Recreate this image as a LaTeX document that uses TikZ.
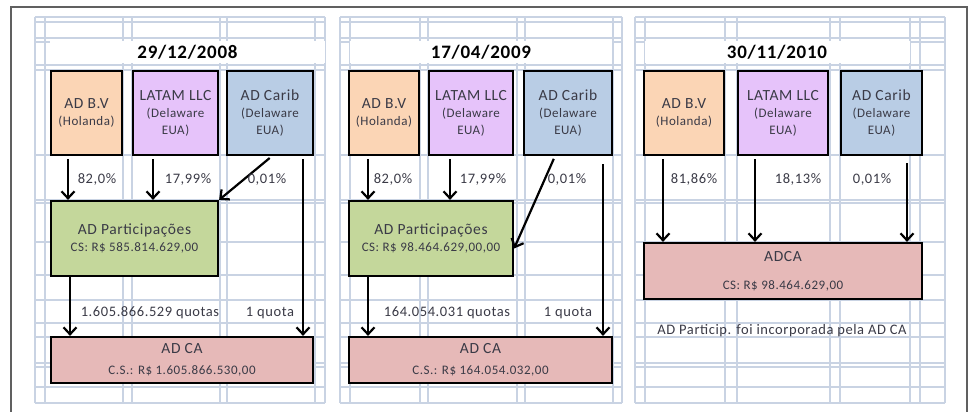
\documentclass[tikz,border=0pt]{standalone}
\usepackage{fontspec}
\setmainfont{Carlito}[LetterSpace=4]
\usetikzlibrary{arrows.meta}
\definecolor{gridblue}{HTML}{C9D3E3}
\definecolor{framegrey}{HTML}{606060}
\definecolor{bvorange}{HTML}{FBD5B5}
\definecolor{latampurple}{HTML}{E6C3FA}
\definecolor{caribblue}{HTML}{B9CDE5}
\definecolor{partgreen}{HTML}{C4D79B}
\definecolor{adcapink}{HTML}{E6B9B8}
\definecolor{txtgrey}{HTML}{3A3A46}
\tikzset{
    entbox/.style={draw=black, line width=2.2pt, align=center, text=txtgrey,
        inner sep=0pt, font=\fontsize{13}{17}\selectfont},
    own/.style={-{Straight Barb[length=7pt,width=13pt,line width=2.2pt]},
        line width=2.2pt, shorten <=3pt},
    pct/.style={text=txtgrey, font=\fontsize{14.5}{17}\selectfont},
    datecell/.style={fill=white, text=black, font=\bfseries\fontsize{19}{22}\selectfont,
        minimum height=22pt, inner sep=0pt},
    gridline/.style={gridblue, line width=1.6pt}
}
\newcommand{\entname}[1]{{\fontsize{15.5}{18}\selectfont #1}}
\newcommand{\entity}[7] {
	\node[entbox, fill=#6, minimum width=#4pt, minimum height=#5pt] (#1) at (#2,#3) {#7};
}

\begin{document}
\begin{tikzpicture}[x=1pt,y=-1pt]
		\useasboundingbox (0,0) rectangle (977,412);

		% sheet grid
		\foreach \x in {35,45,123,132,220,227,315,325}
			\draw[gridline] (\x,17) -- (\x,403);
		\foreach \x in {340,350,420,428,517,525,613,622}
			\draw[gridline] (\x,17) -- (\x,403);
		\foreach \x in {635,645,725,737,830,840,910,920,945}
			\draw[gridline] (\x,17) -- (\x,403);
		\foreach \y in {17,22,38,42,65,70,155,200,203,242,275,300,323,337,363,367,387,403} {
			\draw[gridline] (35,\y) -- (325,\y);
			\draw[gridline] (340,\y) -- (622,\y);
			\draw[gridline] (635,\y) -- (945,\y);
		}
		\draw[framegrey, line width=1.2pt] (11,412) -- (11,7) -- (967,7) -- (967,412);

		% 29/12/2008
		\node[datecell, minimum width=275pt] (d1) at (187.5,52) {29/12/2008};
		\entity{bv1}{86.5}{113}{71}{84}{bvorange}{\entname{AD B.V}\\(Holanda)}
		\entity{la1}{175.5}{113}{85}{84}{latampurple}{\entname{LATAM LLC}\\(Delaware\\EUA)}
		\entity{ca1}{270}{113}{86}{84}{caribblue}{\entname{AD Carib}\\(Delaware\\EUA)}
		\entity{part1}{134.5}{238.5}{167}{75}{partgreen}{\entname{AD Participações}\\CS: R\$ 585.814.629,00}
		\entity{adca1}{182}{360}{262}{46}{adcapink}{\entname{AD CA}\\[4pt]C.S.: R\$ 1.605.866.530,00}
		\coordinate (a1) at (68,0);
		\coordinate (b1) at (153,0);
		\coordinate (v1) at (303,0);
		\coordinate (q1) at (70,0);
		\draw[own] (bv1.south -| a1) -- (part1.north -| a1);
		\draw[own] (la1.south -| b1) -- (part1.north -| b1);
		\draw[own] ([xshift=2pt]ca1.south) -- (part1.north east);
		\draw[own] (ca1.south -| v1) -- (adca1.north -| v1);
		\draw[own, shorten <=0pt] (part1.south -| q1) -- (adca1.north -| q1);
		\node[pct] (p11) at (97,179) {82,0\%};
		\node[pct] (p12) at (188,179) {17,99\%};
		\node[pct] (p13) at (267,179) {0,01\%};
		\node[pct] (n11) at (150,313) {1.605.866.529 quotas};
		\node[pct] (n12) at (270,313) {1 quota};

		% 17/04/2009
		\node[datecell, minimum width=262pt] (d2) at (481,52) {17/04/2009};
		\entity{bv2}{384}{113}{70}{84}{bvorange}{\entname{AD B.V}\\(Holanda)}
		\entity{la2}{471}{113}{84}{84}{latampurple}{\entname{LATAM LLC}\\(Delaware\\EUA)}
		\entity{ca2}{568}{113}{88}{84}{caribblue}{\entname{AD Carib}\\(Delaware\\EUA)}
		\entity{part2}{431}{238.5}{164}{75}{partgreen}{\entname{AD Participações}\\CS: R\$ 98.464.629,00,00}
		\entity{adca2}{480.5}{360}{263}{46}{adcapink}{\entname{AD CA}\\[4pt]C.S.: R\$ 164.054.032,00}
		\coordinate (a2) at (368,0);
		\coordinate (b2) at (450,0);
		\coordinate (v2) at (603,0);
		\draw[own] (bv2.south -| a2) -- (part2.north -| a2);
		\draw[own] (la2.south -| b2) -- (part2.north -| b2);
		\draw[own] ([xshift=-13pt]ca2.south) -- ([yshift=-10pt]part2.east);
		\draw[own, shorten <=8pt] (ca2.south -| v2) -- (adca2.north -| v2);
		\draw[own, shorten <=0pt] (part2.south -| a2) -- (adca2.north -| a2);
		\node[pct] (p21) at (393,179) {82,0\%};
		\node[pct] (p22) at (483,179) {17,99\%};
		\node[pct] (p23) at (567,179) {0,01\%};
		\node[pct] (n21) at (447,313) {164.054.031 quotas};
		\node[pct] (n22) at (568,313) {1 quota};

		% 30/11/2010
		\node[datecell, minimum width=265pt] (d3) at (777,52) {30/11/2010};
		\entity{bv3}{684}{113}{80}{84}{bvorange}{\entname{AD B.V}\\(Holanda)}
		\entity{la3}{783}{113}{90}{84}{latampurple}{\entname{LATAM LLC}\\(Delaware\\EUA)}
		\entity{ca3}{881.5}{113}{81}{84}{caribblue}{\entname{AD Carib}\\(Delaware\\EUA)}
		\entity{adca3}{783}{271}{278}{56}{adcapink}{\entname{ADCA}\\[11pt]CS: R\$ 98.464.629,00}
		\coordinate (a3) at (663,0);
		\coordinate (b3) at (755,0);
		\coordinate (v3) at (907,0);
		\draw[own] (bv3.south -| a3) -- (adca3.north -| a3);
		\draw[own] (la3.south -| b3) -- (adca3.north -| b3);
		\draw[own, shorten <=7pt] (ca3.south -| v3) -- (adca3.north -| v3);
		\node[pct] (p31) at (694,179) {81,86\%};
		\node[pct] (p32) at (798,179) {18,13\%};
		\node[pct] (p33) at (872,179) {0,01\%};
		\node[pct] (n31) at (782,331) {AD Particip. foi incorporada pela AD CA};
\end{tikzpicture}
\end{document}
